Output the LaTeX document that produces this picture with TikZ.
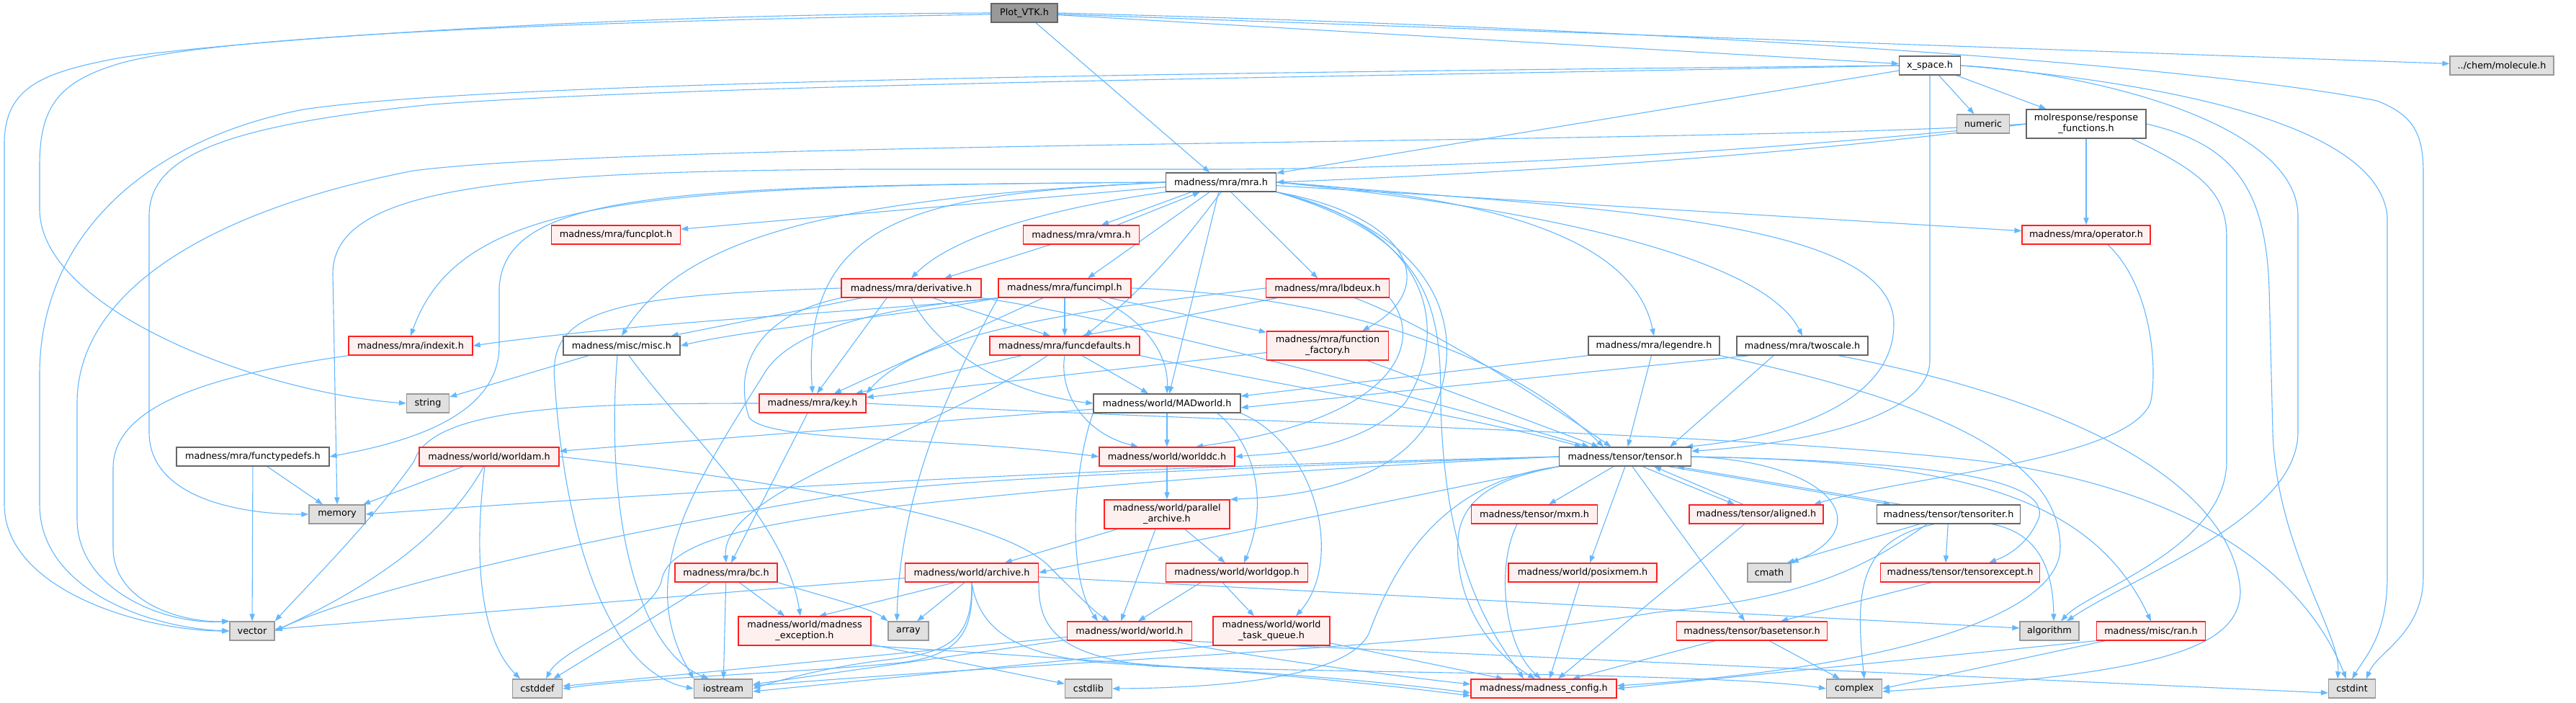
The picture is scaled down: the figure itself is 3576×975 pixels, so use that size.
\documentclass[tikz,border=0pt]{standalone}
\usepackage{fontspec}
\setmainfont{DejaVu Sans}
\usetikzlibrary{arrows.meta,calc}
\pgfdeclarelayer{bg}
\pgfsetlayers{bg,main}
\definecolor{ec}{HTML}{63B8FF}
\definecolor{gA}{HTML}{666666}
\definecolor{gB}{HTML}{999999}
\definecolor{gC}{HTML}{E0E0E0}
\definecolor{rf}{HTML}{FFF0F0}
\definecolor{rb}{HTML}{FF2020}
\newcommand\nfont{\fontsize{6.4}{7.5}\selectfont}
\tikzset{
 e/.style={draw=ec, line width=0.55pt, -{Triangle[length=5pt,width=3.6pt]}},
 box/.style={rectangle, draw, line width=0.65pt, inner sep=0pt, minimum height=13pt, font=\nfont, text=black},
 nd/.style={box, draw=gA, fill=white},
 rd/.style={box, draw=rb, fill=rf},
 sy/.style={box, draw=gB, fill=gC},
 root/.style={box, draw=gA, fill=gB},
 wd/.style={minimum width=#1*0.5pt},
 two/.style={align=center, minimum height=20pt},
}
\begin{document}
\begin{tikzpicture}[x=0.5pt,y=-0.5pt]
\useasboundingbox (0,0) rectangle (3576,975);
% ---------------- nodes
\node[root,wd=92] (P) at (1422,18) {Plot\_VTK.h};
\node[nd,wd=85] (XS) at (2679,91) {x\_space.h};
\node[sy,wd=144] (MOL) at (3473,91) {../chem/molecule.h};
\node[sy,wd=73] (NUM) at (2753,172) {numeric};
\node[nd,wd=166,two] (RF) at (2896,172) {molresponse/response\\\_functions.h};
\node[nd,wd=153] (MRA) at (1695,253) {madness/mra/mra.h};
\node[rd,wd=161] (VMRA) at (1501,326) {madness/mra/vmra.h};
\node[rd,wd=179] (FPLOT) at (855,326) {madness/mra/funcplot.h};
\node[rd,wd=178] (OPER) at (2896,326) {madness/mra/operator.h};
\node[rd,wd=194] (DER) at (1265,400) {madness/mra/derivative.h};
\node[rd,wd=184] (FIMPL) at (1478,400) {madness/mra/funcimpl.h};
\node[rd,wd=171] (LBD) at (1843,400) {madness/mra/lbdeux.h};
\node[rd,wd=172] (IDX) at (570,480) {madness/mra/indexit.h};
\node[nd,wd=162] (MISC) at (863,480) {madness/misc/misc.h};
\node[rd,wd=208] (FDEF) at (1478,480) {madness/mra/funcdefaults.h};
\node[rd,wd=169,two] (FFAC) at (1843,480) {madness/mra/function\\\_factory.h};
\node[nd,wd=182] (LEG) at (2296,480) {madness/mra/legendre.h};
\node[nd,wd=182] (TWO) at (2502,480) {madness/mra/twoscale.h};
\node[sy,wd=59] (STR) at (594,560) {string};
\node[rd,wd=148] (KEY) at (1128,560) {madness/mra/key.h};
\node[nd,wd=204] (MAD) at (1620,560) {madness/world/MADworld.h};
\node[nd,wd=212] (FTD) at (351,634) {madness/mra/functypedefs.h};
\node[rd,wd=194] (WAM) at (679,634) {madness/world/worldam.h};
\node[rd,wd=188] (WDC) at (1620,634) {madness/world/worlddc.h};
\node[nd,wd=183] (TEN) at (2256,634) {madness/tensor/tensor.h};
\node[sy,wd=78] (MEM) at (468,714) {memory};
\node[rd,wd=174,two] (PAR) at (1620,714) {madness/world/parallel\\\_archive.h};
\node[rd,wd=175] (MXM) at (2130,714) {madness/tensor/mxm.h};
\node[rd,wd=186] (ALI) at (2438,714) {madness/tensor/aligned.h};
\node[nd,wd=199] (TIT) at (2705,714) {madness/tensor/tensoriter.h};
\node[rd,wd=142] (BC) at (1008,795) {madness/mra/bc.h};
\node[rd,wd=185] (ARC) at (1349,795) {madness/world/archive.h};
\node[rd,wd=197] (GOP) at (1717,795) {madness/world/worldgop.h};
\node[rd,wd=206] (POS) at (2197,795) {madness/world/posixmem.h};
\node[sy,wd=60] (CMATH) at (2456,795) {cmath};
\node[rd,wd=221] (TEX) at (2721,795) {madness/tensor/tensorexcept.h};
\node[sy,wd=62] (VEC) at (350,876) {vector};
\node[rd,wd=184,two] (EXC) at (1117,876) {madness/world/madness\\\_exception.h};
\node[sy,wd=56] (ARR) at (1261,876) {array};
\node[rd,wd=173] (WLD) at (1568,876) {madness/world/world.h};
\node[rd,wd=162,two] (WTQ) at (1765,876) {madness/world/world\\\_task\_queue.h};
\node[rd,wd=209] (BT) at (2432,876) {madness/tensor/basetensor.h};
\node[sy,wd=82] (ALG) at (2845,876) {algorithm};
\node[rd,wd=151] (RAN) at (2986,876) {madness/misc/ran.h};
\node[sy,wd=69] (CDEF) at (746,956) {cstddef};
\node[sy,wd=81] (IOS) at (1004,956) {iostream};
\node[sy,wd=65] (CSTD) at (1511,956) {cstdlib};
\node[rd,wd=202] (CFG) at (2143,956) {madness/madness\_config.h};
\node[sy,wd=77] (CPX) at (2574,956) {complex};
\node[sy,wd=65] (CINT) at (3265,956) {cstdint};
% ---------------- edges
\begin{pgfonlayer}{bg}
\fill[white] (0,0) rectangle (3576,975);
% Plot_VTK
\draw[e] (P) -- (MRA);
\draw[e] (P) -- (XS);
\draw[e] (P) -- (MOL);
\draw[e] ([yshift=-1pt]P.west) .. controls (900,28) and (300,45) .. (160,90) .. controls (80,115) and (55,150) .. (55,230) -- (55,290) .. controls (55,430) and (360,545) .. (STR.west);
\draw[e] (P.west) .. controls (800,20) and (300,60) .. (168,80) .. controls (60,100) and (6,120) .. (6,200) -- (6,700) .. controls (6,820) and (200,876) .. (VEC.west);
\draw[e] (P.east) .. controls (2500,45) and (3100,100) .. (3300,140) .. controls (3350,160) and (3364,185) .. (3364,240) -- (3364,800) .. controls (3364,880) and (3300,905) .. ([xshift=10pt]CINT.north);
% x_space
\draw[e] (XS) -- (MRA);
\draw[e] (XS) -- (NUM);
\draw[e] (XS) -- (RF);
\draw[e] (XS.south) -- (2679,500) .. controls (2679,585) and (2480,618) .. ([yshift=-3pt]TEN.north east);
\draw[e] (XS.west) .. controls (1800,100) and (700,110) .. (421,152) .. controls (200,195) and (55,330) .. (55,520) -- (55,700) .. controls (55,820) and (210,872) .. (VEC.west);
\draw[e] (XS.west) .. controls (2000,105) and (1000,115) .. (600,145) .. controls (300,175) and (207,220) .. (207,300) -- (207,600) .. controls (207,690) and (330,714) .. (MEM.west);
\draw[e] (XS.east) .. controls (2900,100) and (3190,170) .. (3190,300) -- (3190,600) .. controls (3190,720) and (2960,800) .. ([xshift=12pt]ALG.north);
\draw[e] (XS.east) .. controls (2950,110) and (3300,160) .. (3314,300) -- (3314,800) .. controls (3314,880) and (3285,910) .. (CINT.north);
% molresponse
\draw[e] (RF.west) .. controls (2500,215) and (2100,240) .. (MRA.east);
\draw[e] (RF) -- (OPER);
\draw[e] (RF.west) .. controls (2400,200) and (900,195) .. (574,237) .. controls (300,290) and (107,400) .. (107,560) -- (107,720) .. controls (107,820) and (230,868) .. (VEC.north west);
\draw[e] (RF.west) .. controls (2300,225) and (1900,234) .. (1700,235) -- (1200,235) .. controls (700,238) and (462,260) .. (462,380) -- (MEM.north);
\draw[e] ([xshift=-10pt]RF.south east) .. controls (3060,240) and (3091,270) .. (3091,330) -- (3091,640) .. controls (3091,760) and (2900,820) .. ([xshift=8pt]ALG.north);
\draw[e] (RF.east) .. controls (3100,200) and (3145,260) .. (3150,400) -- (3155,600) .. controls (3160,760) and (3250,880) .. ([xshift=-10pt]CINT.north);
% mra
\draw[e] ([xshift=18pt]MRA.south west) -- ([xshift=14pt]VMRA.north);
\draw[e] ([xshift=25pt]VMRA.north) -- ([xshift=24pt]MRA.south west);
\draw[e] (MRA) -- (FPLOT);
\draw[e] (MRA.west) .. controls (900,258) and (640,270) .. (IDX.north);
\draw[e] (MRA.west) .. controls (950,258) and (700,262) .. (693,400) -- (693,480) .. controls (693,580) and (560,615) .. (FTD.east);
\draw[e] (MRA.west) .. controls (1150,275) and (950,330) .. (MISC.north);
\draw[e] (MRA.south west) .. controls (1450,290) and (1320,330) .. (DER.north);
\draw[e] ([xshift=-8pt]MRA.south) -- ([xshift=16pt]FIMPL.north);
\draw[e] (MRA) -- (LBD);
\draw[e] (MRA.south) .. controls (1640,340) and (1590,400) .. ([xshift=14pt]FDEF.north);
\draw[e] (MRA.south east) .. controls (1960,300) and (2000,400) .. ([xshift=24pt]FFAC.north);
\draw[e] (MRA.west) .. controls (1300,270) and (1110,290) .. (KEY.north);
\draw[e] (MRA) -- (MAD);
\draw[e] (MRA.south east) .. controls (2000,320) and (2010,470) .. (1950,560) .. controls (1880,630) and (1760,630) .. (WDC.east);
\draw[e] (MRA.south east) .. controls (2020,330) and (2040,480) .. (1980,590) .. controls (1920,680) and (1780,690) .. (PAR.north east);
\draw[e] (MRA.east) .. controls (2100,275) and (2270,340) .. (LEG.north);
\draw[e] (MRA) -- (OPER);
\draw[e] (MRA.east) .. controls (2150,290) and (2450,360) .. (TWO.north);
\draw[e] (MRA.east) .. controls (2200,290) and (2629,300) .. (2629,450) .. controls (2629,570) and (2450,610) .. ([xshift=-4pt]TEN.north east);
\draw[e] (MRA.south east) .. controls (1990,330) and (2000,430) .. (2000,560) .. controls (2005,800) and (2080,890) .. ([xshift=-14pt]CFG.north);
% vmra
\draw[e] (VMRA) -- ([xshift=23pt]DER.north);
% derivative
\draw[e] (DER.west) .. controls (850,410) and (760,430) .. (770,530) .. controls (785,760) and (850,935) .. (IOS.west);
\draw[e] (DER) -- (MISC);
\draw[e] ([xshift=-17pt]DER.south) -- ([xshift=3pt]KEY.north);
\draw[e] (DER.south) .. controls (1290,470) and (1380,545) .. (MAD.west);
\draw[e] ([xshift=15pt]DER.south) -- ([xshift=-10pt]FDEF.north);
\draw[e] (DER.south east) .. controls (1550,440) and (2000,560) .. ([xshift=-25pt]TEN.north);
\draw[e] (DER.south west) .. controls (1040,440) and (1020,520) .. (1040,580) .. controls (1070,615) and (1300,605) .. (WDC.west);
% funcimpl
\draw[e] (FIMPL.south west) .. controls (1250,430) and (900,445) .. (IDX.east);
\draw[e] (FIMPL.south west) .. controls (1250,440) and (1050,455) .. (MISC.east);
\draw[e] (FIMPL) -- (KEY);
\draw[e] (FIMPL) -- (FDEF);
\draw[e] (FIMPL) -- (FFAC);
\draw[e] ([xshift=23pt]FIMPL.south) .. controls (1600,450) and (1622,500) .. (MAD.north);
\draw[e] (FIMPL.east) .. controls (1750,405) and (2050,450) .. ([xshift=-15pt]TEN.north);
\draw[e] (FIMPL.south west) .. controls (1350,480) and (1250,650) .. ([xshift=-8pt]ARR.north);
\draw[e] (FIMPL.south west) .. controls (1250,425) and (1100,450) .. (1060,520) .. controls (960,680) and (880,800) .. (IOS.north west);
% lbdeux
\draw[e] (LBD) -- ([xshift=12pt]FDEF.north);
\draw[e] (LBD.west) .. controls (1550,425) and (1280,455) .. (KEY.north east);
\draw[e] (LBD.south east) .. controls (1975,470) and (1950,580) .. ([xshift=20pt]WDC.north);
\draw[e] (LBD) .. controls (1980,450) and (2150,560) .. (TEN);
% funcdefaults
\draw[e] (FDEF) -- (KEY);
\draw[e] ([xshift=-12pt]FDEF.south) .. controls (1300,600) and (1000,680) .. (BC.north);
\draw[e] (FDEF.south) .. controls (1470,540) and (1500,600) .. ([xshift=-20pt]WDC.north);
\draw[e] ([xshift=12pt]FDEF.south) -- ([xshift=-13pt]MAD.north);
\draw[e] (FDEF.south east) .. controls (1700,520) and (2050,580) .. ([xshift=-30pt]TEN.north);
% function_factory
\draw[e] (FFAC) -- (KEY);
\draw[e] (FFAC) -- (TEN);
% indexit, misc, functypedefs
\draw[e] (IDX.south west) .. controls (300,520) and (157,560) .. (157,650) -- (157,760) .. controls (157,840) and (260,865) .. (VEC.north west);
\draw[e] (MISC) -- (STR);
\draw[e] ([xshift=-3pt]MISC.south) .. controls (840,700) and (880,900) .. ([xshift=-10pt]IOS.north);
\draw[e] ([xshift=5pt]MISC.south) .. controls (950,600) and (1090,720) .. ([xshift=-3pt]EXC.north);
\draw[e] (FTD) -- (VEC);
\draw[e] (FTD) -- (MEM);
% key
\draw[e] (KEY.west) .. controls (800,560) and (600,565) .. (575,640) .. controls (520,720) and (420,820) .. (VEC.north east);
\draw[e] (KEY) -- (BC);
\draw[e] (KEY.east) .. controls (1800,590) and (2400,600) .. (2750,640) .. controls (3050,680) and (3200,800) .. ([xshift=-4pt]CINT.north);
% MADworld
\draw[e] (MAD) -- (WAM);
\draw[e] (MAD) -- (WDC);
\draw[e] (MAD.south west) .. controls (1490,650) and (1480,800) .. ([xshift=-22pt]WLD.north);
\draw[e] ([xshift=35pt]MAD.south) .. controls (1745,620) and (1760,700) .. ([xshift=5pt]GOP.north);
\draw[e] (MAD.south east) .. controls (1830,620) and (1865,780) .. ([xshift=17pt]WTQ.north);
% worlddc, parallel_archive
\draw[e] (WDC) -- (PAR);
\draw[e] (PAR) -- (ARC);
\draw[e] ([xshift=-8pt]PAR.south) -- ([xshift=-6pt]WLD.north);
\draw[e] (PAR) -- (GOP);
% worldam
\draw[e] (WAM) -- (MEM);
\draw[e] (WAM) .. controls (610,760) and (480,830) .. (VEC.east);
\draw[e] ([xshift=-3pt]WAM.south) .. controls (660,750) and (660,880) .. ([xshift=-12pt]CDEF.north);
\draw[e] (WAM.east) .. controls (1100,670) and (1400,720) .. (1460,790) .. controls (1500,830) and (1520,850) .. ([xshift=-14pt]WLD.north);
% bc
\draw[e] (BC) -- (CDEF);
\draw[e] (BC) -- (IOS);
\draw[e] (BC) -- (EXC);
\draw[e] (BC.south east) .. controls (1150,830) and (1210,845) .. (ARR.north west);
% archive
\draw[e] (ARC) -- (VEC);
\draw[e] ([xshift=-12pt]ARC.south) -- ([xshift=10pt]EXC.north);
\draw[e] ([xshift=-5pt]ARC.south) -- ([xshift=6pt]ARR.north);
\draw[e] (ARC.south) .. controls (1350,885) and (1320,905) .. (1240,915) .. controls (1150,925) and (1080,945) .. (IOS.east);
\draw[e] (ARC.south) .. controls (1352,880) and (1330,910) .. (1250,920) .. controls (1100,935) and (900,940) .. (CDEF.east);
\draw[e] (ARC.south) .. controls (1360,880) and (1420,915) .. (1560,922) .. controls (1800,935) and (1950,950) .. ([yshift=-3pt]CFG.west);
\draw[e] ([yshift=-3pt]ARC.east) -- ([yshift=2pt]ALG.west);
\draw[e] (ARC.south east) .. controls (1440,880) and (1480,910) .. (1600,925) .. controls (1900,935) and (2400,935) .. (CPX.west);
% worldgop
\draw[e] ([xshift=-25pt]GOP.south) -- ([xshift=6pt]WLD.north);
\draw[e] ([xshift=-10pt]GOP.south) -- ([xshift=-12pt]WTQ.north);
% world
\draw[e] (WLD) -- (IOS);
\draw[e] (WLD) -- (CDEF);
\draw[e] ([xshift=-15pt]WLD.south east) .. controls (1750,915) and (1950,940) .. ([yshift=3pt]CFG.west);
\draw[e] ([xshift=-7pt]WLD.south east) -- ([yshift=-3pt]CINT.west);
% world_task_queue
\draw[e] (WTQ.south west) -- ([yshift=-2pt]IOS.east);
\draw[e] (WTQ) -- ([xshift=-28pt]CFG.north);
% madness_exception
\draw[e] (EXC) -- (CSTD);
\draw[e] (EXC.south east) .. controls (1500,915) and (1800,935) .. ([yshift=-5pt]CFG.west);
% tensor
\draw[e] ([xshift=-8pt]TEN.south) -- ([xshift=10pt]MXM.north);
\draw[e] (TEN.south) -- ([xshift=5pt]POS.north);
\draw[e] ([xshift=12pt]TEN.south) -- ([xshift=-15pt]ALI.north);
\draw[e] ([xshift=-9pt]ALI.north) -- ([xshift=20pt]TEN.south);
\draw[e] ([xshift=30pt]TEN.south) -- ([xshift=-40pt]TIT.north);
\draw[e] ([xshift=-33pt]TIT.north) -- ([xshift=36pt]TEN.south);
\draw[e] (TEN.east) .. controls (2540,640) and (2610,730) .. (CMATH.north east);
\draw[e] (TEN.east) .. controls (2650,640) and (2850,660) .. (2830,720) .. controls (2815,755) and (2790,770) .. ([xshift=20pt]TEX.north);
\draw[e] (TEN.east) .. controls (2700,640) and (2900,680) .. (RAN.north);
\draw[e] (TEN) -- (BT);
\draw[e] (TEN.south west) .. controls (2100,660) and (2035,680) .. (2025,740) .. controls (2015,820) and (2060,900) .. ([xshift=-6pt]CFG.north);
\draw[e] (TEN.south west) .. controls (1990,670) and (1930,800) .. (1900,880) .. controls (1870,940) and (1700,955) .. (CSTD.east);
\draw[e] (TEN.west) .. controls (1700,655) and (1350,690) .. (1200,708) .. controls (1050,730) and (925,750) .. (918,808) .. controls (900,860) and (780,900) .. ([xshift=6pt]CDEF.north);
\draw[e] (TEN.west) .. controls (1700,650) and (1300,665) .. (1150,690) .. controls (800,750) and (500,820) .. (VEC.east);
\draw[e] (TEN.west) .. controls (1700,645) and (1200,665) .. (MEM.east);
\draw[e] (TEN.south west) -- (ARC.east);
% aligned, mxm, posixmem
\draw[e] (ALI) -- ([xshift=10pt]CFG.north);
\draw[e] ([xshift=-12pt]MXM.south) .. controls (2075,790) and (2090,900) .. ([xshift=-2pt]CFG.north);
\draw[e] (POS) -- ([xshift=4pt]CFG.north);
% tensoriter
\draw[e] ([xshift=-20pt]TIT.south) -- ([xshift=-3pt]CMATH.north east);
\draw[e] (TIT) -- ([xshift=-10pt]TEX.north);
\draw[e] ([xshift=30pt]TIT.south) .. controls (2830,740) and (2850,790) .. ([xshift=3pt]ALG.north);
\draw[e] ([xshift=-10pt]TIT.south) .. controls (2580,750) and (2575,820) .. ([xshift=7pt]CPX.north);
\draw[e] ([xshift=-15pt]TIT.south) .. controls (2600,780) and (2520,830) .. (2300,850) .. controls (2000,900) and (1500,915) .. ([yshift=2pt]IOS.east);
% tensorexcept, basetensor, ran
\draw[e] ([xshift=-20pt]TEX.south) -- ([xshift=20pt]BT.north);
\draw[e] (BT) -- ([xshift=20pt]CFG.north);
\draw[e] ([xshift=12pt]BT.south) -- ([xshift=-10pt]CPX.north);
\draw[e] (RAN) -- (CPX.east);
\draw[e] (RAN.south west) -- (CFG.east);
% legendre, twoscale, operator
\draw[e] (LEG.south west) -- ([yshift=5pt]MAD.east);
\draw[e] (LEG) -- (TEN);
\draw[e] (LEG.south east) .. controls (2700,560) and (2860,640) .. (2860,760) .. controls (2860,860) and (2600,930) .. ([yshift=2pt]CFG.east);
\draw[e] ([xshift=-37pt]TWO.south) -- ([yshift=-3pt]MAD.east);
\draw[e] ([xshift=-20pt]TWO.south) -- ([xshift=-15pt]TEN.north east);
\draw[e] ([xshift=25pt]TWO.south) .. controls (2900,560) and (3100,680) .. (3110,820) .. controls (3110,900) and (3000,935) .. ([yshift=-2pt]CPX.east);
\draw[e] ([xshift=15pt]OPER.south) .. controls (2990,400) and (2995,520) .. (2985,560) .. controls (2950,640) and (2650,660) .. ([xshift=40pt]ALI.north);
\end{pgfonlayer}
\end{tikzpicture}
\end{document}
